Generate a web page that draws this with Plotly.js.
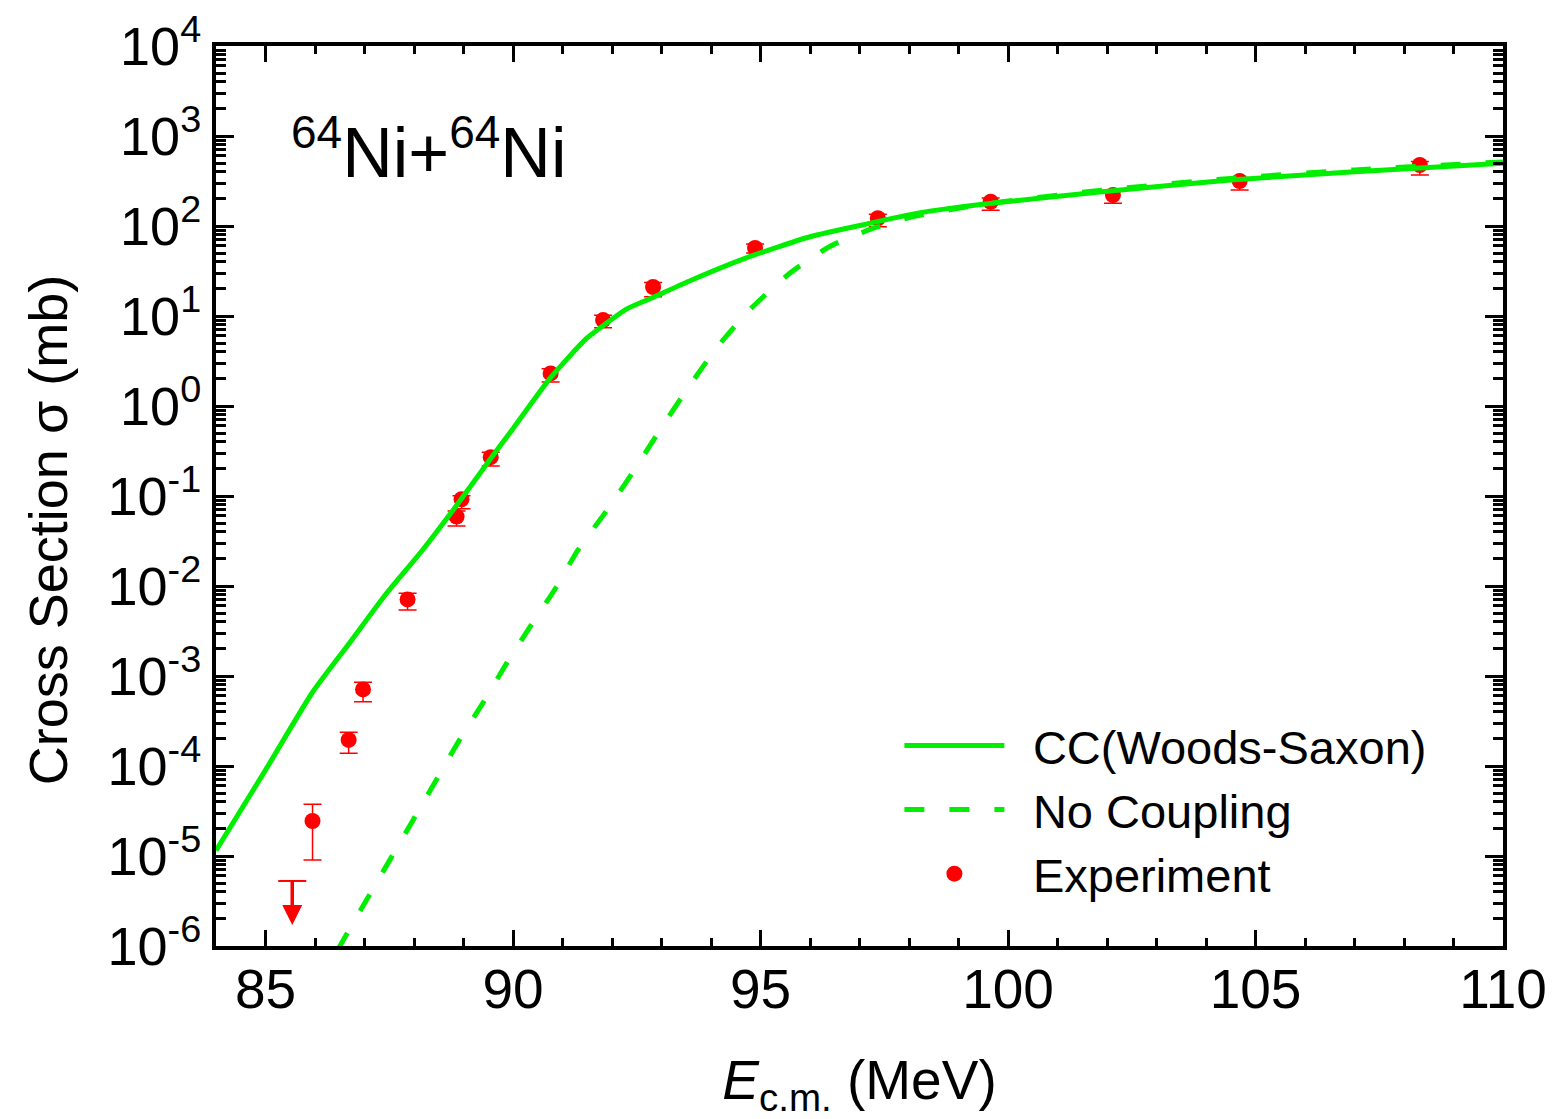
<!DOCTYPE html>
<html>
<head>
<meta charset="utf-8">
<script src="https://cdn.plot.ly/plotly-3.0.1.min.js"></script>
<style>html,body{margin:0;padding:0;background:#fff;}</style>
</head>
<body>
<div id="chart" style="width:1556px;height:1119px;"></div>
<script>
// ---- Data ----
// CC (Woods-Saxon) coupled-channels calculation
const ccX = [84.0, 85.0, 85.95, 86.69, 87.43, 88.17, 88.84, 89.58, 90.0, 90.74, 91.48, 91.82, 92.3, 92.83, 93.6, 94.7, 96.0, 97.2, 98.15, 98.82, 99.36, 101.9, 104.5, 107.0, 110.0];
const ccY = [1.15e-5, 9.0e-5, 6.6e-4, 2.3e-3, 8.1e-3, 0.025, 0.076, 0.275, 0.56, 2.0, 5.6, 7.8, 12, 16.1, 25, 44, 76, 107, 138, 157, 171, 240, 324, 401, 497];

// No coupling calculation
const ncX = [86.45, 87.04, 87.51, 87.98, 88.45, 88.92, 89.39, 89.87, 90.34, 90.88, 91.31, 91.95, 92.49, 92.99, 93.53, 94.11, 94.78, 95.59, 96.39, 97.27, 98.08, 98.82, 99.5, 101.9, 104.5, 107.0, 110.0];
const ncY = [8.9e-7, 3.24e-6, 9.0e-6, 2.5e-5, 7.0e-5, 1.95e-4, 5.0e-4, 1.38e-3, 3.5e-3, 9.8e-3, 0.025, 0.076, 0.21, 0.565, 1.57, 4.4, 11.7, 29.8, 58.9, 94, 127, 151, 175, 250, 338, 420, 515];

// Experiment
const expX  = [85.95, 86.68, 86.97, 87.87, 88.86, 88.96, 89.55, 90.76, 91.82, 92.83, 94.89, 97.37, 99.65, 102.12, 104.68, 108.32];
const expY  = [2.45e-5, 1.95e-4, 7.1e-4, 7.1e-3, 0.059, 0.092, 0.27, 2.3, 9.0, 21, 57, 122, 186, 221, 316, 476];
const expHi = [3.75e-5, 2.37e-4, 8.5e-4, 8.3e-3, 0.068, 0.1007, 0.306, 2.6, 10.2, 23.5, 63, 135, 205, 245, 345, 520];
const expLo = [9.0e-6, 1.39e-4, 5.18e-4, 5.4e-3, 0.0464, 0.0723, 0.215, 1.85, 7.4, 16.4, 50, 98, 150, 179, 251, 369];

// Upper limit (arrow)
const ulX = [85.54];
const ulY = [5.28e-6];
const ulTip = [1.71e-6];

// Tick labels
const yTickVals = [1e-6, 1e-5, 1e-4, 1e-3, 1e-2, 1e-1, 1e0, 1e1, 1e2, 1e3, 1e4];
const yTickText = ['10<sup>-6</sup>', '10<sup>-5</sup>', '10<sup>-4</sup>', '10<sup>-3</sup>', '10<sup>-2</sup>', '10<sup>-1</sup>', '10<sup>0</sup>', '10<sup>1</sup>', '10<sup>2</sup>', '10<sup>3</sup>', '10<sup>4</sup>'];

// Labels
const seriesNames = ['CC(Woods-Saxon)', 'No Coupling', 'Experiment'];
const systemLabel = '<sup><span style="font-size:46px">64</span></sup>Ni+<sup><span style="font-size:46px">64</span></sup>Ni';
const xTitle = '<i>E</i><sub>c.m.</sub> (MeV)';
const yTitle = 'Cross Section σ (mb)';

// ---- Styles ----
const FONT = 'Liberation Sans, Arial, Helvetica, sans-serif';
const GREEN = '#00ee00';
const RED = '#ff0000';
const LEG_GAP = '\u2002';

const traces = [
  {
    x: expX, y: expY, type: 'scatter', mode: 'markers', name: LEG_GAP + seriesNames[2], legendrank: 3,
    marker: { color: RED, size: 16, symbol: 'circle' },
    error_y: {
      type: 'data', symmetric: false,
      array: expHi.map((h, i) => h - expY[i]),
      arrayminus: expLo.map((l, i) => expY[i] - l),
      color: RED, thickness: 1.5, width: 9
    },
    cliponaxis: false
  },
  {
    x: ulX, y: ulY, type: 'scatter', mode: 'markers', showlegend: false, hoverinfo: 'skip',
    marker: { color: RED, size: 20, symbol: 'line-ew', line: { color: RED, width: 2 } },
    error_y: {
      type: 'data', symmetric: false,
      array: [0],
      arrayminus: ulY.map((v, i) => v - ulTip[i] * 1.5),
      color: RED, thickness: 3.5, width: 0
    }
  },
  {
    x: ulX, y: ulTip, type: 'scatter', mode: 'markers', showlegend: false, hoverinfo: 'skip',
    marker: { color: RED, size: 20, symbol: 'arrow-down', line: { width: 0 } }
  },
  {
    x: ncX, y: ncY, type: 'scatter', mode: 'lines', name: LEG_GAP + seriesNames[1], legendrank: 2,
    line: { color: GREEN, width: 5, dash: '20px,25px', shape: 'spline', smoothing: 0.6 }
  },
  {
    x: ccX, y: ccY, type: 'scatter', mode: 'lines', name: LEG_GAP + seriesNames[0], legendrank: 1,
    line: { color: GREEN, width: 5, shape: 'spline', smoothing: 0.6 }
  }
];

const layout = {
  width: 1556, height: 1119,
  margin: { l: 216, r: 53, t: 46, b: 173 },
  paper_bgcolor: '#ffffff', plot_bgcolor: '#ffffff',
  font: { family: FONT, color: '#000000', size: 52 },
  showlegend: true,
  legend: {
    x: 0.531, y: 0.264, xanchor: 'left', yanchor: 'top',
    bgcolor: 'rgba(0,0,0,0)', borderwidth: 0,
    font: { family: FONT, size: 47, color: '#000000' },
    itemwidth: 100, tracegroupgap: 0
  },
  xaxis: {
    range: [84, 110], tickmode: 'linear', tick0: 85, dtick: 5,
    ticks: 'inside', ticklen: 16, tickwidth: 3, tickcolor: '#000',
    showline: true, linewidth: 4, linecolor: '#000', mirror: 'ticks',
    showgrid: false, zeroline: false, ticklabelstandoff: -8,
    tickfont: { family: FONT, size: 55, color: '#000' },
    minor: { tick0: 84, dtick: 1, ticks: 'inside', ticklen: 8, tickwidth: 3, tickcolor: '#000', showgrid: false },
    title: { text: xTitle, font: { family: FONT, size: 55, color: '#000' }, standoff: 46 }
  },
  yaxis: {
    type: 'log', range: [-6, 4], tickmode: 'array', tickvals: yTickVals, ticktext: yTickText,
    ticks: 'inside', ticklen: 18, tickwidth: 3, tickcolor: '#000',
    showline: true, linewidth: 4, linecolor: '#000', mirror: 'ticks',
    showgrid: false, zeroline: false,
    tickfont: { family: FONT, size: 54, color: '#000' },
    minor: { dtick: 'D1', ticks: 'inside', ticklen: 10, tickwidth: 3, tickcolor: '#000', showgrid: false }
  },
  annotations: [
    {
      xref: 'paper', yref: 'paper', x: 0.057, y: 0.886, xanchor: 'left', yanchor: 'middle',
      text: systemLabel, showarrow: false,
      font: { family: FONT, size: 70, color: '#000' }
    },
    {
      xref: 'paper', yref: 'paper', x: -0.1305, y: 0.462, xanchor: 'center', yanchor: 'middle',
      text: yTitle, showarrow: false, textangle: -90,
      font: { family: FONT, size: 54, color: '#000' }
    }
  ]
};

Plotly.newPlot('chart', traces, layout, { displayModeBar: false, staticPlot: true });
</script>
</body>
</html>
